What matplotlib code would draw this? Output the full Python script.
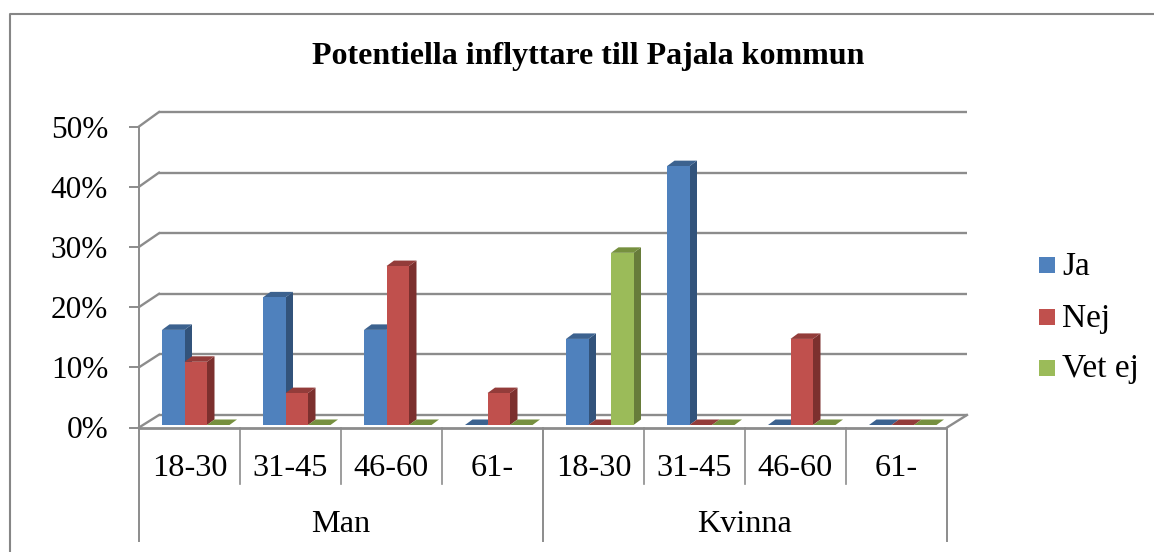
import matplotlib
matplotlib.use("Agg")
import matplotlib.pyplot as plt
from matplotlib.patches import Polygon, Rectangle

plt.rcParams['font.family'] = ['Liberation Serif', 'DejaVu Serif']

TITLE = "Potentiella inflyttare till Pajala kommun"
age_groups = ["18-30", "31-45", "46-60", "61-", "18-30", "31-45", "46-60", "61-"]
genders = ["Man", "Kvinna"]
series_names = ["Ja", "Nej", "Vet ej"]
ja = [15.8, 21.2, 15.8, 0, 14.3, 43.0, 0, 0]
nej = [10.5, 5.3, 26.4, 5.3, 0, 0, 14.3, 0]
vet_ej = [0, 0, 0, 0, 28.6, 0, 0, 0]
y_ticks = [0, 10, 20, 30, 40, 50]

front = ["#4F81BD", "#C0504D", "#9BBB59"]
side = ["#32537B", "#7C302E", "#677C3A"]
top = ["#3C628F", "#933C3A", "#76903F"]
GRID = "#8C8C8C"

W, H = 1154, 552
fig = plt.figure(figsize=(W / 100, H / 100), dpi=100, facecolor="white")

L, R, T, B = 139, 947, 126.5, 427.5
ax = fig.add_axes([L / W, 1 - B / H, (R - L) / W, (B - T) / H])
ax.set_xlim(0, 8)
ax.set_ylim(0, 50)
ax.patch.set_alpha(0)
for s in ax.spines.values():
    s.set_visible(False)
ux = 8 / (R - L)    # data units per pixel, x
uy = 50 / (B - T)   # data units per pixel, y

# back wall and floor of the 3-D box
DX = 20
for v in y_ticks:
    dy = (12.5 + 2.0 * v / 50) * uy
    ax.plot([DX * ux, 8 + DX * ux], [v + dy, v + dy], color=GRID, lw=1.7, clip_on=False, zorder=1,
            solid_capstyle="butt")
    ax.plot([0, DX * ux], [v, v + dy], color=GRID, lw=1.7, clip_on=False, zorder=1)
ax.plot([8, 8 + DX * ux], [0, 12.5 * uy], color=GRID, lw=1.7, clip_on=False, zorder=1)
ax.plot([0, 8], [0, 0], color=GRID, lw=2.0, clip_on=False, zorder=4, solid_capstyle="butt")
ax.plot([0, 0], [0, 50], color=GRID, lw=1.4, clip_on=False, zorder=4)
ax.set_xticks([])
ax.set_yticks(y_ticks)
ax.set_yticklabels([f"{v}%" for v in y_ticks], fontsize=22.5, color="black")
ax.tick_params(axis="y", length=7.2, width=1.4, color=GRID, pad=15)

# bars
bar_w = 22.5 * ux
gap = 23 * ux
BX, BY = 7.5, 5.5
up = 2.5 * uy
for i, (vals, f, s, t) in enumerate(zip([ja, nej, vet_ej], front, side, top)):
    for c, v in enumerate(vals):
        x0 = c + gap + i * bar_w
        x1 = x0 + bar_w
        y0, y1 = up, v + up
        dx, dy = BX * ux, BY * uy
        z = 6 + i
        if v > 0:
            ax.add_patch(Polygon([(x1, y0), (x1 + dx, y0 + dy), (x1 + dx, y1 + dy), (x1, y1)],
                                 closed=True, fc=s, ec="none", zorder=z, clip_on=False))
        ax.add_patch(Polygon([(x0, y1), (x0 + dx, y1 + dy), (x1 + dx, y1 + dy), (x1, y1)],
                             closed=True, fc=t, ec="none", zorder=z, clip_on=False))
        if v > 0:
            ax.bar(x0, v, width=bar_w, bottom=up, align="edge", color=f, zorder=z, clip_on=False)

# multi-level category axis
tr = ax.get_xaxis_transform()
for k in range(9):
    long_tick = k % 4 == 0
    end = 541 if long_tick else 484
    ax.plot([k, k], [0, -(end - B) / (B - T)], transform=tr, color=GRID, lw=1.4 if long_tick else 1.2,
            clip_on=False, zorder=3)
for c, lab in enumerate(age_groups):
    ax.text(c + 0.5, -(476.5 - B) / (B - T), lab, transform=tr, ha="center", va="baseline",
            fontsize=23.2, color="black")
for g, name in enumerate(genders):
    ax.text(2 + 4 * g, -(532 - B) / (B - T), name, transform=tr, ha="center", va="baseline",
            fontsize=23.2, color="black")

# chart title and legend
fig.text(588 / W, 1 - 64 / H, TITLE, ha="center", va="baseline", fontsize=23, fontweight="bold", color="black")
for name, c, y_box, y_base in zip(series_names, front, [257, 309, 360], [275, 326.5, 377.5]):
    fig.add_artist(Rectangle((1039 / W, 1 - (y_box + 16) / H), 16 / W, 16 / H, transform=fig.transFigure,
                             fc=c, ec="none"))
    fig.text(1062 / W, 1 - y_base / H, name, ha="left", va="baseline", fontsize=24, color="black")

# outer chart border (left and top edges are visible)
fig.add_artist(plt.Line2D([10 / W, 10 / W, 1], [0, 1 - 13.5 / H, 1 - 13.5 / H],
                          transform=fig.transFigure, color="#868686", lw=1.5))

fig.savefig("out.png", dpi=100)
